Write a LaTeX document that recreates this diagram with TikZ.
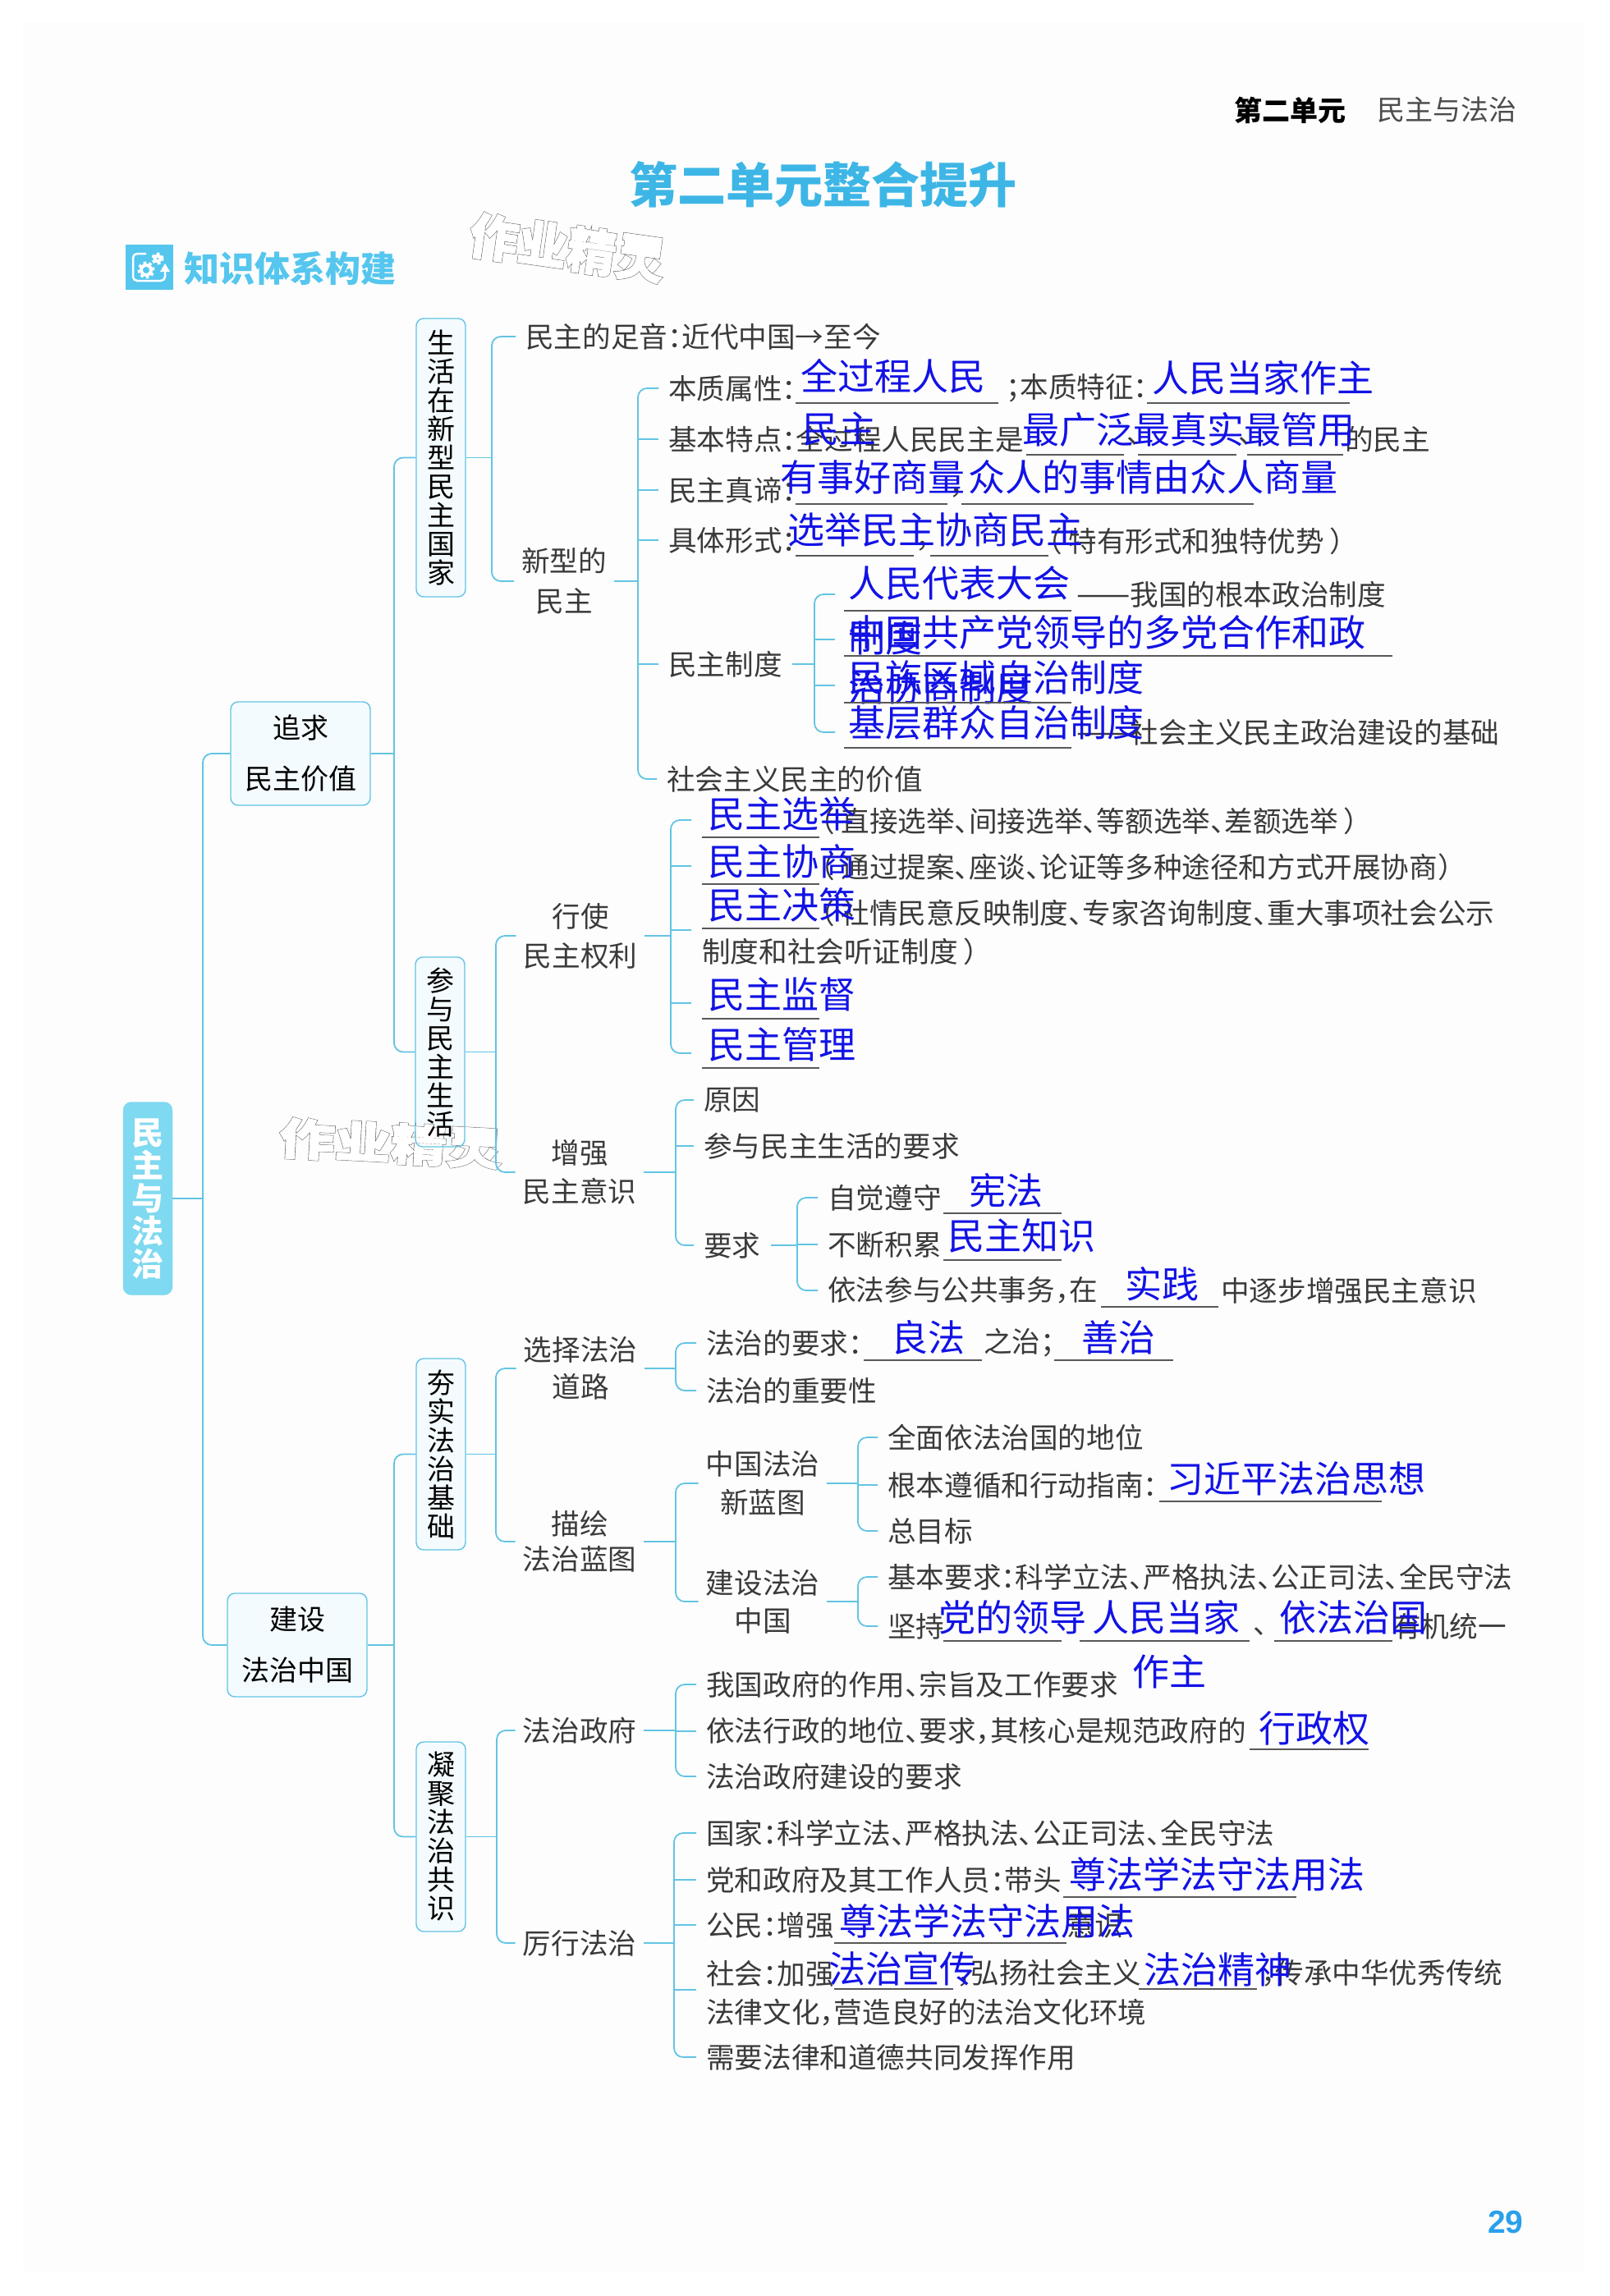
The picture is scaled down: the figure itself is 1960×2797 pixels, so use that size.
\documentclass[tikz,border=0pt]{standalone}
\usepackage{fontspec}
\setmainfont[RawFeature=+halt]{Noto Sans CJK SC}
\newfontfamily\plainf{Noto Sans CJK SC}
\newfontfamily\numf{Liberation Sans}
\newfontfamily\stampA[BoldFeatures={FakeBold=4}]{Noto Sans CJK SC}
\newfontfamily\stampB[BoldFeatures={FakeBold=2.2}]{Noto Sans CJK SC}
\definecolor{pagetint}{HTML}{FDFDFD}
\definecolor{linecyan}{HTML}{62C4E4}
\definecolor{boxfill}{HTML}{F4FBFE}
\definecolor{titlecyan}{HTML}{3DB6E6}
\definecolor{headcyan}{HTML}{55C6EE}
\definecolor{rootcyan}{HTML}{7FD9F0}
\definecolor{pagenum}{HTML}{2AA0EC}
\definecolor{inkgray}{HTML}{3A3A3A}
\definecolor{ansblue}{HTML}{1212E6}
\definecolor{wmgray}{HTML}{666666}
\newcommand{\fsz}[2]{\fontsize{#1}{#2}\selectfont}
\newcommand{\dou}{\char"FF0C\relax}
\newcommand{\mao}{\char"FF1A\relax}
\newcommand{\fen}{\char"FF1B\relax}
\newcommand{\lkuo}{\char"FF08\hspace{7pt}}
\newcommand{\rkuo}{\hspace{7pt}\char"FF09\relax}
\newcommand{\zhe}{{\plainf\fsz{39}{40}——}}
\tikzset{
    conn/.style={draw=linecyan, line width=1.8pt, rounded corners=11pt},
    blank/.style={draw=inkgray!85, line width=1.7pt},
    txt/.style={anchor=west, inner sep=0pt, text=inkgray, font=\fsz{34.6}{40}},
    leaf/.style={txt, inner xsep=12pt},
    ans/.style={anchor=west, inner sep=0pt, text=ansblue, font=\fsz{45}{50}},
    twoline/.style={align=center, inner xsep=9pt, inner ysep=0pt, text=inkgray},
    vbox/.style={draw=linecyan, line width=1.4pt, rounded corners=9pt, minimum width=60pt, inner sep=0pt, text width=35pt, align=center, text=black, font=\fsz{34}{35}},
    hbox/.style={draw=linecyan, line width=1.4pt, fill=boxfill, rounded corners=9pt, minimum width=170pt, minimum height=126pt, inner sep=0pt, align=center, text=black, font=\fsz{34}{62}},
    markout/.style={text=wmgray, inner sep=0pt},
    markin/.style={text=white, inner sep=0pt}
}
\begin{document}
\begin{tikzpicture}[x=1pt, y=-1pt]
    \useasboundingbox (0,0) rectangle (1960,2797);
    \fill[pagetint] (28,27) rectangle (1930,2767);

    % page head
    \node[txt, text=black, font=\fsz{34}{40}\bfseries] (unit) at (1503,134) {第二单元};
    \node[txt, text=black!70, font=\fsz{34}{40}] (unitname) at (1677,134) {民主与法治};
    \node[text=titlecyan, inner sep=0pt, font=\fsz{59}{60}\bfseries] (title) at (1002,225) {第二单元整合提升};
    \node[txt, text=headcyan, font=\fsz{43}{46}\bfseries] (heading) at (224,327) {知识体系构建};
    \node[fill=headcyan, minimum width=58pt, minimum height=55pt, inner sep=0pt] (icon) at (182,325) {};
    \draw[white, line width=2.5pt, rounded corners=5pt] (178,309) -- (162,309) -- (162,342) -- (201,342) -- (201,330);
    \fill[white] (201,321) -- (195,331) -- (207,331) -- cycle;
    \draw[white, line width=4pt] (178,329) circle (6pt) (192,315) circle (3.5pt);
    \draw[white, line width=3pt, dash pattern=on 3.5pt off 3.5pt] (178,329) circle (9pt) (192,315) circle (6pt);
    \node[markout, rotate=-8, font=\stampA\bfseries\fsz{60}{60}] (markA) at (691,302) {作业精灵};
    \node[markin, rotate=-8, font=\stampB\bfseries\fsz{60}{60}] (markAin) at (691,302) {作业精灵};

    % root and big boxes
    \node[draw=rootcyan, fill=rootcyan, rounded corners=10pt, minimum width=60pt, minimum height=235pt, inner sep=0pt, text width=40pt, align=center, text=white, font=\fsz{39}{40}\bfseries] (root) at (180,1460) {民\\主\\与\\法\\治};
    \node[hbox] (zhuiqiu) at (366,918) {追求\\民主价值};
    \node[hbox] (jianshe) at (362,2004) {建设\\法治中国};
    \node[vbox, fill=boxfill, minimum height=339pt] (life) at (537,557.5) {生\\活\\在\\新\\型\\民\\主\\国\\家};
    \fill[boxfill, rounded corners=9pt] (506,1166) rectangle (566,1397);
    \node[markout, rotate=-3, yscale=.78, font=\stampA\bfseries\fsz{68}{68}] (markB) at (476,1393) {作业精灵};
    \node[markin, rotate=-3, yscale=.78, font=\stampB\bfseries\fsz{68}{68}] (markBin) at (476,1393) {作业精灵};
    \node[vbox, minimum height=231pt] (join) at (536,1281.5) {参\\与\\民\\主\\生\\活};
    \node[vbox, fill=boxfill, minimum height=233pt] (base) at (537,1771.5) {夯\\实\\法\\治\\基\\础};
    \node[vbox, fill=boxfill, minimum height=231pt] (gather) at (537,2237.5) {凝\\聚\\法\\治\\共\\识};

    % middle nodes
    \foreach \nm/\xx/\yy/\gap/\wz in {
        newdemo/687/708/49/新型的\\民主,
        power/707/1140/48/行使\\民主权利,
        aware/706/1428/47/增强\\民主意识,
        road/707/1667/45/选择法治\\道路,
        blueprint/706/1878/43/描绘\\法治蓝图,
        newplan/929/1807/47/中国法治\\新蓝图,
        buildcn/929/1951/46/建设法治\\中国,
        gov/706/2108/40/法治政府,
        dolaw/706/2367/40/厉行法治} {
        \node[twoline, font=\fsz{34.6}{\gap}] (\nm) at (\xx,\yy) {\wz};
    }

    % leaves
    \foreach \nm/\xx/\yy/\wz in {
        zuyin/628/410/民主的足音\mao 近代中国→至今,
        shuxing/802/473/本质属性\mao,
        tedian/802/535/基本特点\mao 全过程人民民主是,
        zhendi/802/597/民主真谛\mao,
        xingshi/802/658/具体形式\mao,
        zhidu/802/809/民主制度,
        jiazhi/800/949/社会主义民主的价值,
        yuanyin/845/1340/原因,
        yaoqiu/845/1396/参与民主生活的要求,
        demand/845/1517/要求,
        zijue/996/1459/自觉遵守,
        jilei/996/1516/不断积累,
        yifa/996/1572/依法参与公共事务\dou 在,
        lawneed/848/1636/法治的要求\mao,
        lawkey/848/1694/法治的重要性,
        status/1069/1751/全面依法治国的地位,
        guide/1069/1809/根本遵循和行动指南\mao,
        goal/1069/1865/总目标,
        basic/1069/1921/基本要求\mao 科学立法、严格执法、公正司法、全民守法,
        hold/1069/1981/坚持,
        govrole/848/2052/我国政府的作用、宗旨及工作要求,
        govcore/848/2109/依法行政的地位、要求\dou 其核心是规范政府的,
        govbuild/848/2164/法治政府建设的要求,
        guojia/848/2233/国家\mao 科学立法、严格执法、公正司法、全民守法,
        party/848/2290/党和政府及其工作人员\mao 带头,
        citizen/848/2345/公民\mao 增强,
        society/848/2404/社会\mao 加强,
        moral/848/2506/需要法律和道德共同发挥作用} {
        \node[leaf] (\nm) at (\xx,\yy) {\wz};
    }

    % plain text in the rows
    \foreach \nm/\xx/\yy/\wz in {
        tezheng/1225/473/\fen 本质特征\mao,
        dunA/1372/538/、,
        dunB/1508/538/、,
        deminzhu/1638/535/的民主,
        douA/1156/600/\dou,
        douB/1115/665/\dou,
        youshi/1277/659/\lkuo 特有形式和独特优势\rkuo,
        genben/1311/724/\zhe 我国的根本政治制度,
        jichu/1311/892/\zhe 社会主义民主政治建设的基础,
        xuanC/1000/1000/\lkuo 直接选举、间接选举、等额选举、差额选举\rkuo,
        xieC/1000/1056/\lkuo 通过提案、座谈、论证等多种途径和方式开展协商\char"FF09,
        jueC/1000/1112/\lkuo 社情民意反映制度、专家咨询制度、重大事项社会公示,
        jueD/855/1159/制度和社会听证制度\rkuo,
        zhuyi/1487/1572/中逐步增强民主意识,
        zhizhi/1198/1636/之治\fen,
        dunC/1526/1988/、,
        tongyi/1696/1981/有机统一,
        yishi/1299/2345/意识,
        hongyang/1165/2404/\dou 弘扬社会主义,
        chuancheng/1536/2404/\dou 传承中华优秀传统,
        wenhua/860/2452/法律文化\dou 营造良好的法治文化环境} {
        \node[txt] (\nm) at (\xx,\yy) {\wz};
    }

    % filled in answers
    \foreach \nm/\xx/\yy/\wz in {
        aQuan/975/458/全过程人民,
        aDang/1403/460/人民当家作主,
        aMin/977/523/民主,
        aZui/1245/523/最广泛最真实最管用,
        aShang/950/581/有事好商量,
        aZhong/1179/581/众人的事情由众人商量,
        aJu/959/645/选举民主协商民主,
        aRen/1033/711/人民代表大会,
        aZd/1033/777/制度,
        aDuo/1033/770/中国共产党领导的多党合作和政,
        aZu/1033/825/民族区域自治制度,
        aXie/1033/837/治协商制度,
        aJi/1033/880/基层群众自治制度,
        aXuan/862/991/民主选举,
        aShi/862/1049/民主协商,
        aJue/862/1102/民主决策,
        aJian/862/1211/民主监督,
        aGuan/862/1272/民主管理,
        aXian/1180/1450/宪法,
        aZhi/1154/1505/民主知识,
        aPrac/1370/1564/实践,
        aLiang/1085/1629/良法,
        aShan/1317/1629/善治,
        aXi/1421/1801/习近平法治思想,
        aLing/1143/1970/党的领导,
        aMd/1330/1970/人民当家,
        aGuo/1558/1970/依法治国,
        aZuo/1379/2036/作主,
        aXing/1533/2105/行政权,
        aZun/1302/2283/尊法学法守法用法,
        aGm/1022/2340/尊法学法守法用法,
        aSx/1009/2398/法治宣传,
        aJs/1393/2399/法治精神} {
        \node[ans] (\nm) at (\xx,\yy) {\wz};
    }

    % blanks under the answers
    \foreach \xa/\xb/\yy in {
        969/1216/491, 1397/1644/491, 1250/1369/554, 1386/1506/554, 1519/1636/554,
        969/1154/614, 1171/1527/614, 969/1113/677, 1133/1277/677,
        1028/1305/744, 1028/1696/799, 1028/1305/856, 1028/1305/911,
        855/998/1020, 855/998/1077, 855/998/1131, 855/998/1241, 855/998/1301,
        1149/1293/1478, 1149/1293/1535, 1341/1484/1592,
        1052/1196/1657, 1284/1429/1657, 1412/1683/1829,
        1149/1293/1999, 1315/1522/1999, 1552/1696/1999,
        1522/1667/2131, 1295/1579/2311, 1016/1299/2367,
        1016/1161/2423, 1387/1531/2423} {
        \draw[blank] (\xa,\yy) -- (\xb,\yy);
    }

    % spine coordinates
    \coordinate (spRoot) at (247,1460);
    \coordinate (spSeek) at (480,918);
    \coordinate (spBuild) at (480,2004);
    \coordinate (spLife) at (599,557);
    \coordinate (spNew) at (777,708);
    \coordinate (spSys) at (992,809);
    \coordinate (spJoin) at (604,1282);
    \coordinate (spUse) at (817,1140);
    \coordinate (spAware) at (823,1428);
    \coordinate (spReq) at (971,1517);
    \coordinate (spBase) at (604,1771);
    \coordinate (spRoad) at (823,1667);
    \coordinate (spMap) at (823,1878);
    \coordinate (spPlan) at (1045,1807);
    \coordinate (spCn) at (1045,1951);
    \coordinate (spGather) at (605,2237);
    \coordinate (spGov) at (823,2108);
    \coordinate (spDo) at (821,2367);

    % connectors
    \draw[conn] (root.east) -- (root.east -| spRoot);
    \draw[conn] (zhuiqiu.west) -| (spRoot) |- (jianshe.west);
    \draw[conn] (zhuiqiu.east) -- (zhuiqiu.east -| spSeek);
    \draw[conn] (life.west) -| (spSeek) |- (join.west);
    \draw[conn] (jianshe.east) -- (jianshe.east -| spBuild);
    \draw[conn] (base.west) -| (spBuild) |- (gather.west);

    \draw[conn] (life.east) -- (life.east -| spLife);
    \draw[conn] (zuyin.west) -| (spLife) |- (newdemo.west);
    \draw[conn] (newdemo.east) -- (newdemo.east -| spNew);
    \draw[conn] (shuxing.west) -| (spNew) |- (jiazhi.west);
    \foreach \kid in {tedian,zhendi,xingshi,zhidu} {
        \draw[conn] (spNew |- \kid.west) -- (\kid.west);
    }
    \draw[conn] (zhidu.east) -- (zhidu.east -| spSys);
    \draw[conn] ([xshift=-16pt,yshift=-13pt]aRen.west) -| (spSys) |- ([xshift=-16pt,yshift=-12pt]aJi.west);
    \draw[conn] ([xshift=-16pt,yshift=-9pt]aDuo.west) -- ++(-25,0);
    \draw[conn] ([xshift=-16pt,yshift=-10pt]aZu.west) -- ++(-25,0);

    \draw[conn] (join.east) -- (join.east -| spJoin);
    \draw[conn] (power.west) -| (spJoin) |- (aware.west);
    \draw[conn] (power.east) -- (power.east -| spUse);
    \draw[conn] ([xshift=-20pt,yshift=-8pt]aXuan.west) -| (spUse) |- ([xshift=-20pt,yshift=-11pt]aGuan.west);
    \foreach \kid/\dy in {aShi/-6,aJue/-31,aJian/-11} {
        \draw[conn] ([xshift=-20pt,yshift=\dy pt]\kid.west) -- ++(-25,0);
    }
    \draw[conn] (aware.east) -- (aware.east -| spAware);
    \draw[conn] (yuanyin.west) -| (spAware) |- (demand.west);
    \draw[conn] (spAware |- yaoqiu.west) -- (yaoqiu.west);
    \draw[conn] (demand.east) -- (demand.east -| spReq);
    \draw[conn] (zijue.west) -| (spReq) |- (yifa.west);
    \draw[conn] (spReq |- jilei.west) -- (jilei.west);

    \draw[conn] (base.east) -- (base.east -| spBase);
    \draw[conn] (road.west) -| (spBase) |- (blueprint.west);
    \draw[conn] (road.east) -- (road.east -| spRoad);
    \draw[conn] (lawneed.west) -| (spRoad) |- (lawkey.west);
    \draw[conn] (blueprint.east) -- (blueprint.east -| spMap);
    \draw[conn] (newplan.west) -| (spMap) |- (buildcn.west);
    \draw[conn] (newplan.east) -- (newplan.east -| spPlan);
    \draw[conn] (status.west) -| (spPlan) |- (goal.west);
    \draw[conn] (spPlan |- guide.west) -- (guide.west);
    \draw[conn] (buildcn.east) -- (buildcn.east -| spCn);
    \draw[conn] (basic.west) -| (spCn) |- (hold.west);

    \draw[conn] (gather.east) -- (gather.east -| spGather);
    \draw[conn] (gov.west) -| (spGather) |- (dolaw.west);
    \draw[conn] (gov.east) -- (gov.east -| spGov);
    \draw[conn] (govrole.west) -| (spGov) |- (govbuild.west);
    \draw[conn] (spGov |- govcore.west) -- (govcore.west);
    \draw[conn] (dolaw.east) -- (dolaw.east -| spDo);
    \draw[conn] (guojia.west) -| (spDo) |- (moral.west);
    \foreach \kid in {party,citizen} {
        \draw[conn] (spDo |- \kid.west) -- (\kid.west);
    }
    \draw[conn] ([yshift=-20pt]society.west) -- ++(-27,0);

    % page number
    \node[txt, text=pagenum, font=\numf\bfseries\fsz{39}{40}] (pageno) at (1812,2707) {29};
\end{tikzpicture}
\end{document}
